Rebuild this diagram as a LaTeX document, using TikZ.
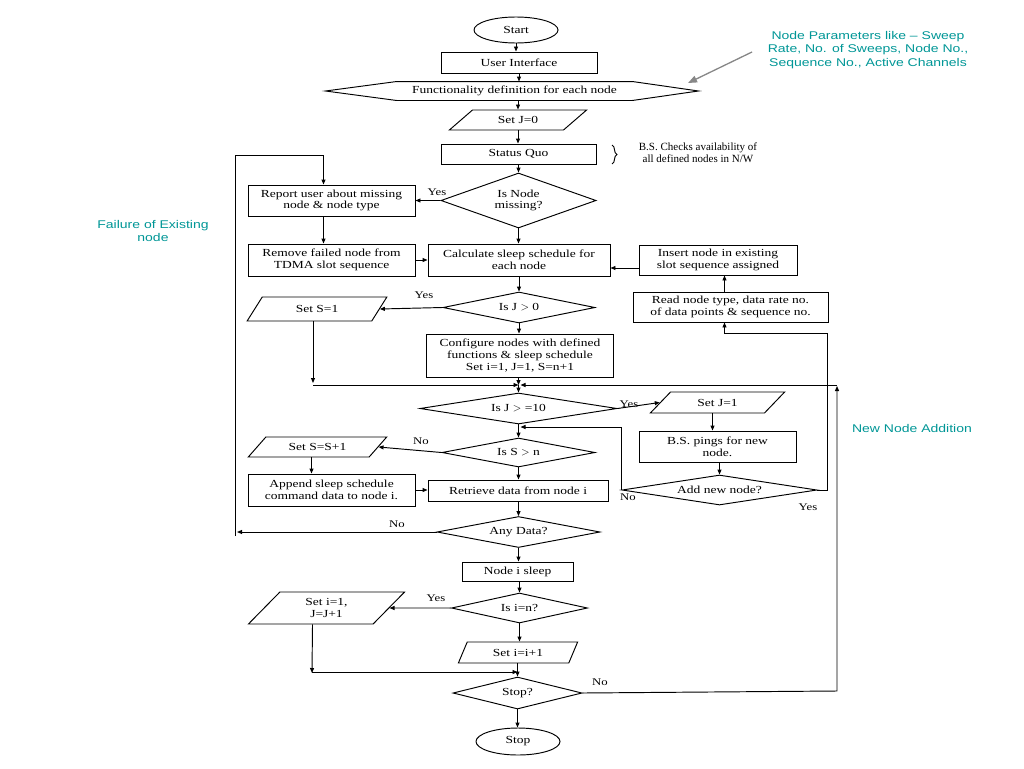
\documentclass[tikz,border=0pt]{standalone}
\usepackage{fontspec}
\newfontfamily\fserif{Liberation Serif}[FakeStretch=1.25]
\newfontfamily\fserifn{Liberation Serif}
\newfontfamily\fsans{Liberation Sans}[FakeStretch=1.25]
\usetikzlibrary{shapes.geometric,arrows.meta,decorations.pathreplacing,calc}
\definecolor{noteteal}{RGB}{0,150,150}
\definecolor{notegray}{RGB}{135,135,135}
\begin{document}
\begin{tikzpicture}[x=1pt,y=-1pt,line width=0.95pt,
  every node/.style={font=\fserif\fontsize{10.8}{11.6}\selectfont,inner sep=0pt,align=center},
  procbox/.style={draw,rectangle},
  decbox/.style={draw,diamond,aspect=5},
  iobox/.style={draw,trapezium,trapezium stretches=true,trapezium left angle=#1,trapezium right angle=180-#1},
  termbox/.style={draw,ellipse},
  lbl/.style={font=\fserif\fontsize{10.2}{11}\selectfont},
  note/.style={font=\fsans\fontsize{11.2}{13.8}\selectfont,text=noteteal},
  arr/.style={-{Triangle[length=5pt,width=4pt]}}]
\useasboundingbox (0,0) rectangle (1024,768);

% nodes
\node[termbox,minimum width=84pt,minimum height=26pt] (start) at (516,30) {Start};
\node[procbox,minimum width=156pt,minimum height=21pt] (ui) at (519,62.5) {User Interface};
\node[minimum width=235pt,minimum height=18pt] (fd) at (514.5,91) {Functionality definition for each node};
\draw (fd.north west) -- (fd.north east) -- ($(fd.east)+(66,0)$) -- (fd.south east) -- (fd.south west) -- ($(fd.west)+(-71,0)$) -- cycle;
\node[iobox=35.5,minimum width=138pt,minimum height=20pt] (setj0) at (518,120) {Set J=0};
\node[procbox,minimum width=155pt,minimum height=20pt] (sq) at (518.5,154) {Status Quo};
\node[font=\fserifn\fontsize{11}{11.6}\selectfont] (bsc) at (698,153) {B.S. Checks availability of\\all defined nodes in N/W};
\coordinate (br1) at (612,145);
\coordinate (br2) at (612,164);
\draw[decorate,decoration={brace,amplitude=5pt}] (br1) -- (br2);

\node[decbox,minimum width=153pt,minimum height=55pt] (nmiss) at (518.5,200.5) {Is Node\\missing?};
\node[procbox,minimum width=167pt,minimum height=31pt] (report) at (331.5,200.5) {Report user about missing\\node \& node type};
\node[procbox,minimum width=167pt,minimum height=32pt] (remove) at (331.5,260) {Remove failed node from\\TDMA slot sequence};
\node[procbox,minimum width=182pt,minimum height=32pt] (calc) at (519,260) {Calculate sleep schedule for\\each node};
\node[procbox,minimum width=158pt,minimum height=30pt] (insert) at (718,260) {Insert node in existing\\slot sequence assigned};
\node[procbox,minimum width=195pt,minimum height=30pt] (read) at (730.5,307) {Read node type, data rate no.\\of data points \& sequence no.};
\node[decbox,minimum width=152pt,minimum height=31pt] (isj0) at (519,307.5) {Is J $>$ 0};
\node[iobox=51,minimum width=140pt,minimum height=24pt] (sets1) at (317,309) {Set S=1};
\node[procbox,minimum width=187pt,minimum height=43pt] (config) at (520,355.5) {Configure nodes with defined\\functions \& sleep schedule\\Set i=1, J=1, S=n+1};
\coordinate (m385) at (518.5,385);
\node[decbox,minimum width=197pt,minimum height=31pt] (isj10) at (518.5,408.5) {Is J $>$ =10};
\node[iobox=40,minimum width=135pt,minimum height=21pt] (setj1) at (717.5,402.5) {Set J=1};
\node[procbox,minimum width=157pt,minimum height=31pt] (pings) at (717.5,446.5) {B.S. pings for new\\node.};
\node[decbox,minimum width=195pt,minimum height=30pt] (addn) at (719.5,490) {Add new node?};
\node[decbox,minimum width=153pt,minimum height=29pt] (issn) at (518.5,452.5) {Is S $>$ n};
\node[iobox=36.5,minimum width=139pt,minimum height=20pt] (setss) at (317.5,447) {Set S=S+1};
\node[procbox,minimum width=167pt,minimum height=32pt] (append) at (331.5,490) {Append sleep schedule\\command data to node i.};
\node[procbox,minimum width=180pt,minimum height=21pt] (retr) at (518,490.5) {Retrieve data from node i};
\node[decbox,minimum width=163pt,minimum height=31pt] (anyd) at (518.5,532) {Any Data?};
\node[procbox,minimum width=111pt,minimum height=19pt] (sleep) at (517.5,571.5) {Node i sleep};
\node[decbox,minimum width=136pt,minimum height=30pt] (isin) at (519.5,608) {Is i=n?};
\node[iobox=53,minimum width=157pt,minimum height=32pt] (seti1) at (326.5,608) {Set i=1,\\J=J+1};
\node[iobox=59,minimum width=120pt,minimum height=21pt] (seti2) at (518,652.5) {Set i=i+1};
\node[decbox,minimum width=129pt,minimum height=32pt] (stopq) at (517.5,693) {Stop?};
\node[termbox,minimum width=84pt,minimum height=27pt] (stop) at (518,741.5) {Stop};

% main column
\draw[arr] (start.south) -- (start.south |- ui.north);
\draw[arr] (ui.south) -- (ui.south |- fd.north);
\draw[arr] (setj0.north |- fd.south) -- (setj0.north);
\draw[arr] (setj0.south) -- (setj0.south |- sq.north);
\draw[arr] (nmiss.north |- sq.south) -- (nmiss.north);
\draw[arr] (nmiss.south) -- (nmiss.south |- calc.north);
\draw[arr] (isj0.north |- calc.south) -- (isj0.north);
\draw[arr] (isj0.south) -- (isj0.south |- config.north);
\draw[arr] (m385 |- config.south) -- (m385);
\draw[arr] (m385) -- (m385 |- isj10.north);
\draw[arr] (isj10.south) -- (isj10.south |- issn.north);
\draw[arr] (issn.south) -- (issn.south |- retr.north);
\draw[arr] (anyd.north |- retr.south) -- (anyd.north);
\draw[arr] (anyd.south) -- (anyd.south |- sleep.north);
\draw[arr] (isin.north |- sleep.south) -- (isin.north);
\draw[arr] (isin.south) -- (isin.south |- seti2.north);
\draw[arr] (stopq.north |- seti2.south) -- (stopq.north);
\draw[arr] (stopq.south) -- (stopq.south |- stop.north);

% left branches
\draw[arr] (nmiss.west) -- (report.east);
\node[lbl] (lyes1) at (437,192) {Yes};
\draw[arr] ([xshift=-8pt]report.south) -- ([xshift=-8pt]remove.north);
\draw[arr] (remove.east) -- (remove.east -| calc.west);
\draw[arr] (isj0.west) -- (sets1.east);
\node[lbl] (lyes2) at (424,295) {Yes};
\coordinate (s1c) at (313,385);
\draw[arr] (sets1.south -| s1c) -- ([yshift=2pt]s1c);
\draw[arr] (s1c) -- (m385);
\draw[arr] (issn.west) -- (setss.east);
\node[lbl] (lno1) at (421,441) {No};
\draw[arr] ([xshift=-6pt]setss.south) -- ([xshift=-6pt]setss.south |- append.north);
\draw[arr] (append.east) -- (append.east -| retr.west);
\coordinate (l1) at (237,532);
\coordinate (l0) at (235,536);
\coordinate (l2) at (235,155.5);
\draw[arr] (anyd.west) -- (l1);
\node[lbl] (lno2) at (397,524) {No};
\draw[arr] (l0) -- (l2) -| ([xshift=-8pt]report.north);
\draw[arr] (isin.west) -- (seti1.east);
\node[lbl] (lyes3) at (436,598) {Yes};
\coordinate (b1) at (312,672);
\draw[arr] ([xshift=-14pt]seti1.south) -- ([yshift=-1pt]b1);
\draw[arr] (b1) -- (b1 -| stopq.north);

% right branches
\draw[arr] (isj10.east) -- (setj1.west);
\node[lbl] (lyes4) at (629,404) {Yes};
\draw[arr] ([xshift=-5pt]setj1.south) -- ([xshift=-5pt]setj1.south |- pings.north);
\draw[arr] (addn.north |- pings.south) -- (addn.north);
\coordinate (nr) at (518.5,427);
\draw[arr] (addn.west) |- ([xshift=2pt]nr);
\node[lbl] (lno3) at (628,497) {No};
\coordinate (y1) at (827,333);
\draw[arr] (addn.east) -| (y1) -| ([xshift=-6pt]read.south);
\node[lbl] (lyes5) at (808,507) {Yes};
\draw[arr] ([xshift=-6pt]read.north) -- ([xshift=-6pt]read.north |- insert.south);
\draw[arr] ([yshift=-8pt]insert.west) -- ([yshift=-8pt]insert.west -| calc.east);
\coordinate (r1) at (837,691);
\coordinate (r2) at (837,386);
\draw[arr] (stopq.east) -- (r1) -- (r2);
\draw[arr] (r2 |- m385) -- ([xshift=2pt]m385);
\node[lbl] (lno4) at (600,682) {No};

% annotations
\node[note] (n1) at (868,50) {Node Parameters like – Sweep\\Rate, No. of Sweeps, Node No.,\\Sequence No., Active Channels};
\coordinate (pa) at (752,52);
\coordinate (pb) at (688,83);
\draw[-{Triangle[length=9pt,width=7pt]},draw=notegray,fill=notegray,line width=1.3pt] (pa) -- (pb);
\node[note] (n2) at (153,231) {Failure of Existing\\node};
\node[note] (n3) at (912,428) {New Node Addition};
\end{tikzpicture}
\end{document}
